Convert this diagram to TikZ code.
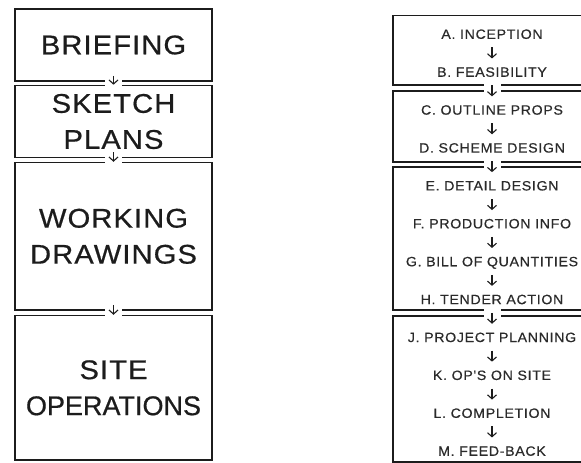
\documentclass[tikz,border=0pt]{standalone}
\usepackage{fontspec}
\setmainfont{Liberation Sans}
\newfontfamily\stagefont[LetterSpace=4,FakeStretch=1.08,FakeBold=0.6]{Liberation Sans}
\newfontfamily\stagetight[FakeBold=0.6]{Liberation Sans}
\newfontfamily\phasefont[LetterSpace=5,FakeStretch=1.05,FakeBold=0.5]{Liberation Sans}
\usetikzlibrary{arrows.meta,positioning}
\definecolor{paper}{HTML}{FFFFFF}
\definecolor{ink}{HTML}{1C1C1C}
\definecolor{inkdim}{HTML}{2A2A2A}

\begin{document}
\begin{tikzpicture}[x=1pt,y=-1pt,
  node distance=27.8pt,
  stagebox/.style={rectangle,draw=ink,line width=1.6pt,minimum width=197pt,inner sep=0pt,align=center,text=ink,font=\stagefont\fontsize{27}{36}\selectfont},
  phasebox/.style={rectangle,draw=ink,line width=1.6pt,minimum width=198pt,inner sep=0pt},
  phaselabel/.style={inner sep=0pt,text height=9.7pt,text depth=0pt,text=inkdim,font=\phasefont\fontsize{13.5}{16}\selectfont},
  gapcut/.style={fill=paper,inner sep=0pt,minimum width=17pt,minimum height=10pt},
  flow/.style={draw=ink,line width=1.1pt,-{Straight Barb[length=4pt,width=9pt,line width=1.1pt]}},
  inflow/.style={flow,shorten <=8.4pt,shorten >=8.4pt}
]
\useasboundingbox (0,0) rectangle (581,463);
\clip (0,0) rectangle (581,463);

% left column: the four stages
\node[stagebox,minimum height=72pt] (brief) at (113.5,45) {BRIEFING};
\node[stagebox,minimum height=72pt] (sketch) at (113.5,121.5) {SKETCH\\PLANS};
\node[stagebox,minimum height=147.5pt] (working) at (113.5,236.3) {WORKING\\DRAWINGS};
\node[stagebox,minimum height=144.5pt] (site) at (113.5,387.8) {SITE\\{\stagetight OPERATIONS}};

\path (brief.south) -- (sketch.north) node[midway,gapcut] {};
\path (sketch.south) -- (working.north) node[midway,gapcut] {};
\path (working.south) -- (site.north) node[midway,gapcut] {};

\draw[flow,shorten <=-6pt] (brief) -- (sketch);
\draw[flow,shorten <=-6pt] (sketch) -- (working);
\draw[flow,shorten <=-6pt] (working) -- (site);

% right column: the plan of work
\node[phasebox,minimum height=69.5pt] (phaseA) at (492,50.3) {};
\node[phasebox,minimum height=71pt] (phaseC) at (492,126.5) {};
\node[phasebox,minimum height=143pt] (phaseE) at (492,238.5) {};
\node[phasebox,minimum height=145.5pt] (phaseJ) at (492,389) {};

\path (phaseA.south) -- (phaseC.north) node[midway,gapcut] {};
\path (phaseC.south) -- (phaseE.north) node[midway,gapcut] {};
\path (phaseE.south) -- (phaseJ.north) node[midway,gapcut] {};

\node[phaselabel] (incep) at (492,34) {A. INCEPTION};
\node[phaselabel,below=of incep] (feas) {B. FEASIBILITY};
\node[phaselabel,below=of feas] (outline) {C. OUTLINE PROPS};
\node[phaselabel,below=of outline] (scheme) {D. SCHEME DESIGN};
\node[phaselabel,below=of scheme] (detail) {E. DETAIL DESIGN};
\node[phaselabel,below=of detail] (prodinfo) {F. PRODUCTION INFO};
\node[phaselabel,below=of prodinfo] (quant) {G. BILL OF QUANTITIES};
\node[phaselabel,below=of quant] (tender) {H. TENDER ACTION};
\node[phaselabel,below=of tender] (planning) {J. PROJECT PLANNING};
\node[phaselabel,below=of planning] (onsite) {K. OP'S ON SITE};
\node[phaselabel,below=of onsite] (complete) {L. COMPLETION};
\node[phaselabel,below=of complete] (feedback) {M. FEED-BACK};

\draw[inflow] (incep) -- (feas);
\draw[inflow] (feas) -- (outline);
\draw[inflow] (outline) -- (scheme);
\draw[inflow] (scheme) -- (detail);
\draw[inflow] (detail) -- (prodinfo);
\draw[inflow] (prodinfo) -- (quant);
\draw[inflow] (quant) -- (tender);
\draw[inflow] (tender) -- (planning);
\draw[inflow] (planning) -- (onsite);
\draw[inflow] (onsite) -- (complete);
\draw[inflow] (complete) -- (feedback);
\end{tikzpicture}
\end{document}
